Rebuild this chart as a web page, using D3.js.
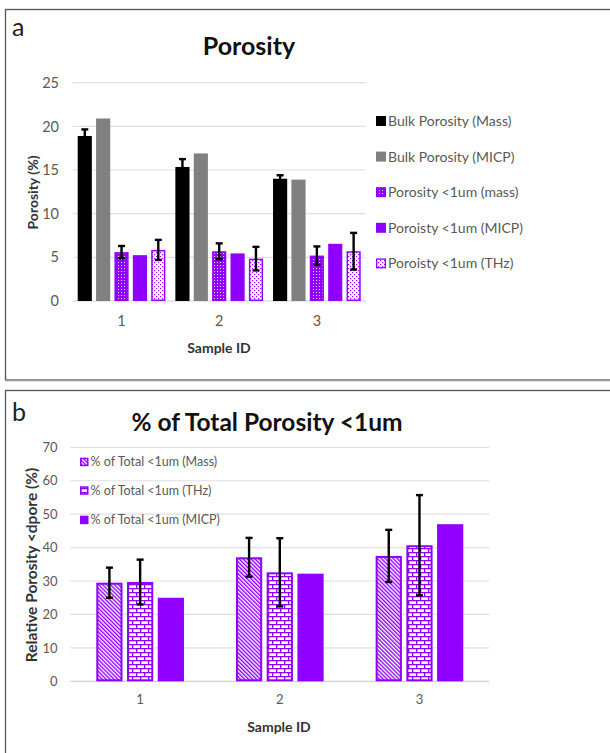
<!DOCTYPE html>
<html><head><meta charset="utf-8">
<script src="https://cdn.jsdelivr.net/npm/d3@7"></script>
<style>
html,body{margin:0;padding:0;background:#fff;}
svg{display:block;font-family:Lato,"Open Sans",sans-serif;}
</style></head><body>
<svg id="chart" width="610" height="753"></svg>
<script>
// ---------- Data ----------
const samples = ["1","2","3"];

// Panel a
const seriesA = ["Bulk Porosity (Mass)","Bulk Porosity (MICP)","Porosity <1um (mass)","Poroisty <1um (MICP)","Poroisty <1um (THz)"];
const bulkMass = [18.9, 15.35, 14.0];
const bulkMassErr = [0.75, 0.9, 0.4];
const bulkMICP = [20.9, 16.9, 13.9];
const subMass = [5.6, 5.7, 5.2];
const subMassErr = [0.7, 0.9, 1.05];
const subMICP = [5.25, 5.45, 6.55];
const subTHz = [5.85, 4.85, 5.7];
const subTHzErr = [1.15, 1.35, 2.1];
const ticksA = [0,5,10,15,20,25];

// Panel b
const seriesB = ["% of Total <1um (Mass)","% of Total <1um (THz)","% of Total <1um (MICP)"];
const pctMass = [29.5, 37.1, 37.5];
const pctMassErr = [4.5, 5.8, 7.8];
const pctTHz = [29.7, 32.6, 40.7];
const pctTHzErr = [6.7, 10.2, 15.0];
const pctMICP = [25.0, 32.2, 47.0];
const ticksB = [0,10,20,30,40,50,60,70];

// ---------- Drawing ----------
const PURPLE = "#8f00ff";
const svg = d3.select("#chart");
const defs = svg.append("defs");

let p = defs.append("pattern").attr("id","dotMass").attr("patternUnits","userSpaceOnUse").attr("width",3).attr("height",3);
p.append("rect").attr("width",3).attr("height",3).attr("fill",PURPLE);
p.append("rect").attr("x",1).attr("y",1).attr("width",1).attr("height",1).attr("fill","#e8d0ff");
p = defs.append("pattern").attr("id","dotTHz").attr("patternUnits","userSpaceOnUse").attr("width",4).attr("height",4);
p.append("rect").attr("width",4).attr("height",4).attr("fill","#fff");
p.append("rect").attr("x",0).attr("y",0).attr("width",1.2).attr("height",1.2).attr("fill",PURPLE);
p.append("rect").attr("x",2).attr("y",2).attr("width",1.2).attr("height",1.2).attr("fill",PURPLE);
p = defs.append("pattern").attr("id","diag").attr("patternUnits","userSpaceOnUse").attr("width",2.8).attr("height",2.8).attr("patternTransform","rotate(-45)");
p.append("rect").attr("width",2.8).attr("height",2.8).attr("fill","#fff");
p.append("rect").attr("width",1.4).attr("height",2.8).attr("fill",PURPLE);
p = defs.append("pattern").attr("id","brick").attr("patternUnits","userSpaceOnUse").attr("width",8).attr("height",8);
p.append("rect").attr("width",8).attr("height",8).attr("fill","#fff");
p.append("rect").attr("x",0).attr("y",0).attr("width",8).attr("height",1.3).attr("fill",PURPLE);
p.append("rect").attr("x",0).attr("y",4).attr("width",8).attr("height",1.3).attr("fill",PURPLE);
p.append("rect").attr("x",0).attr("y",0).attr("width",1.3).attr("height",4).attr("fill",PURPLE);
p.append("rect").attr("x",4).attr("y",4).attr("width",1.3).attr("height",4).attr("fill",PURPLE);

svg.append("rect").attr("x",5.5).attr("y",9.5).attr("width",620).attr("height",370.5).attr("fill","none").attr("stroke","#555").attr("stroke-width",1.3);
svg.append("line").attr("x1",5).attr("x2",610).attr("y1",380.5).attr("y2",380.5).attr("stroke","#999").attr("stroke-width",1.5);
svg.append("rect").attr("x",5.5).attr("y",390.5).attr("width",620).attr("height",380).attr("fill","none").attr("stroke","#555").attr("stroke-width",1.3);

function drawErr(g, x, y, v, e, cap){
  g.append("line").attr("x1",x).attr("x2",x).attr("y1",y(v+e)).attr("y2",y(v-e)).attr("stroke","#000").attr("stroke-width",2.4);
  g.append("line").attr("x1",x-cap).attr("x2",x+cap).attr("y1",y(v+e)).attr("y2",y(v+e)).attr("stroke","#000").attr("stroke-width",2.4);
  g.append("line").attr("x1",x-cap).attr("x2",x+cap).attr("y1",y(v-e)).attr("y2",y(v-e)).attr("stroke","#000").attr("stroke-width",2.4);
}

// ---------- Panel a ----------
{
  const g = svg.append("g");
  const x0 = d3.scaleBand().domain(samples).range([72.7, 365.7]).padding(0);
  const x1 = d3.scaleBand().domain(seriesA).range([5, x0.bandwidth()-5]).paddingInner(0.23).paddingOuter(0);
  const y = d3.scaleLinear().domain([0,25]).range([301, 82.7]);

  g.selectAll(".gA").data(ticksA).join("line")
    .attr("x1",72.7).attr("x2",365.7).attr("y1",d=>y(d)).attr("y2",d=>y(d))
    .attr("stroke",d=>d===0?"#d0d0d0":"#e0e0e0").attr("stroke-width",1.2);
  const ya = g.append("g").attr("transform","translate(59,0)").call(d3.axisLeft(y).tickValues(ticksA).tickSize(0).tickPadding(0));
  ya.select(".domain").remove();
  ya.selectAll("text").attr("font-size",14.5).attr("fill","#595959").attr("font-family","Lato");

  const xa = g.append("g").attr("transform","translate(0,316)").call(d3.axisBottom(x0).tickSize(0).tickPadding(0));
  xa.select(".domain").remove();
  xa.selectAll("text").attr("font-size",14.5).attr("fill","#595959").attr("font-family","Lato");

  const valsA = [bulkMass, bulkMICP, subMass, subMICP, subTHz];
  const fillA = ["#000","#808080","url(#dotMass)",PURPLE,"url(#dotTHz)"];
  const strokeA = [null,null,PURPLE,null,PURPLE];
  const errA = [bulkMassErr, null, subMassErr, null, subTHzErr];
  const bw = x1.bandwidth();
  seriesA.forEach((s,i)=>{
    samples.forEach((c,j)=>{
      const bx = x0(c)+x1(s);
      const v = valsA[i][j];
      const sw = strokeA[i]?1.5:0;
      g.append("rect").attr("x",bx+sw/2).attr("y",y(v)+sw/2).attr("width",bw-sw).attr("height",y(0)-y(v)-sw)
        .attr("fill",fillA[i]).attr("stroke",strokeA[i]||"none").attr("stroke-width",sw);
    });
  });
  seriesA.forEach((s,i)=>{
    if(!errA[i]) return;
    samples.forEach((c,j)=>{ drawErr(g, x0(c)+x1(s)+bw/2, y, valsA[i][j], errA[i][j], 3.5); });
  });

  const leg = g.append("g");
  seriesA.forEach((s,i)=>{
    const ly = 121 + i*35.6;
    const sw = strokeA[i]?1.3:0;
    leg.append("rect").attr("x",376+sw/2).attr("y",ly-5+sw/2).attr("width",10-sw).attr("height",10-sw)
      .attr("fill", fillA[i]).attr("stroke",strokeA[i]||"none").attr("stroke-width",sw);
    leg.append("text").attr("x",388).attr("y",ly+5).attr("font-size",14).attr("fill","#595959").text(s);
  });

  g.append("text").attr("x",12).attr("y",36).attr("font-size",25).attr("fill","#222").text("a");
  g.append("text").attr("x",249).attr("y",55).attr("text-anchor","middle").attr("font-size",25).attr("font-weight","bold").attr("fill","#111").text("Porosity");
  g.append("text").attr("transform","translate(38,192.5) rotate(-90)").attr("text-anchor","middle").attr("font-size",14).attr("font-weight","bold").attr("fill","#333").text("Porosity (%)");
  g.append("text").attr("x",219).attr("y",353).attr("text-anchor","middle").attr("font-size",14).attr("font-weight","bold").attr("fill","#333").text("Sample ID");
}

// ---------- Panel b ----------
{
  const g = svg.append("g");
  const x0 = d3.scaleBand().domain(samples).range([70.3, 489.3]).padding(0);
  const x1 = d3.scaleBand().domain(seriesB).range([26, x0.bandwidth()-26]).paddingInner(0.146).paddingOuter(0);
  const y = d3.scaleLinear().domain([0,70]).range([681.3, 447.3]);

  g.selectAll(".gB").data(ticksB).join("line")
    .attr("x1",70.3).attr("x2",489.3).attr("y1",d=>y(d)).attr("y2",d=>y(d))
    .attr("stroke",d=>d===0?"#d0d0d0":"#e0e0e0").attr("stroke-width",1.2);
  const ya = g.append("g").attr("transform","translate(57.5,0)").call(d3.axisLeft(y).tickValues(ticksB).tickSize(0).tickPadding(0));
  ya.select(".domain").remove();
  ya.selectAll("text").attr("font-size",13).attr("fill","#595959").attr("font-family","Lato");

  const xa = g.append("g").attr("transform","translate(0,695)").call(d3.axisBottom(x0).tickSize(0).tickPadding(0));
  xa.select(".domain").remove();
  xa.selectAll("text").attr("font-size",13).attr("fill","#595959").attr("font-family","Lato");

  const valsB = [pctMass, pctTHz, pctMICP];
  const fillB = ["url(#diag)","url(#brick)",PURPLE];
  const strokeB = [PURPLE,PURPLE,null];
  const errB = [pctMassErr, pctTHzErr, null];
  const bw = x1.bandwidth();
  seriesB.forEach((s,i)=>{
    samples.forEach((c,j)=>{
      const bx = x0(c)+x1(s);
      const v = valsB[i][j];
      const sw = strokeB[i]?2:0;
      g.append("rect").attr("x",bx+sw/2).attr("y",y(v)+sw/2).attr("width",bw-sw).attr("height",y(0)-y(v)-sw)
        .attr("fill",fillB[i]).attr("stroke",strokeB[i]||"none").attr("stroke-width",sw);
    });
  });
  seriesB.forEach((s,i)=>{
    if(!errB[i]) return;
    samples.forEach((c,j)=>{ drawErr(g, x0(c)+x1(s)+bw/2, y, valsB[i][j], errB[i][j], 3.5); });
  });

  const leg = g.append("g");
  const legY = [461.7, 490.3, 519.7];
  seriesB.forEach((s,i)=>{
    const ly = legY[i];
    const sw = strokeB[i]?1.5:0;
    leg.append("rect").attr("x",80+sw/2).attr("y",ly-4+sw/2).attr("width",8.5-sw).attr("height",8.5-sw)
      .attr("fill",fillB[i]).attr("stroke",strokeB[i]||"none").attr("stroke-width",sw);
    leg.append("text").attr("x",90.5).attr("y",ly+4.5).attr("font-size",12.5).attr("fill","#595959").text(s);
  });

  g.append("text").attr("x",12).attr("y",420.5).attr("font-size",25).attr("fill","#222").text("b");
  g.append("text").attr("x",267).attr("y",430.5).attr("text-anchor","middle").attr("font-size",24.5).attr("font-weight","bold").attr("fill","#111").text("% of Total Porosity <1um");
  g.append("text").attr("transform","translate(37,565) rotate(-90)").attr("text-anchor","middle").attr("font-size",15.5).attr("font-weight","bold").attr("fill","#333").text("Relative Porosity <dpore (%)");
  g.append("text").attr("x",279).attr("y",731.5).attr("text-anchor","middle").attr("font-size",14).attr("font-weight","bold").attr("fill","#333").text("Sample ID");
}
</script>
</body></html>
